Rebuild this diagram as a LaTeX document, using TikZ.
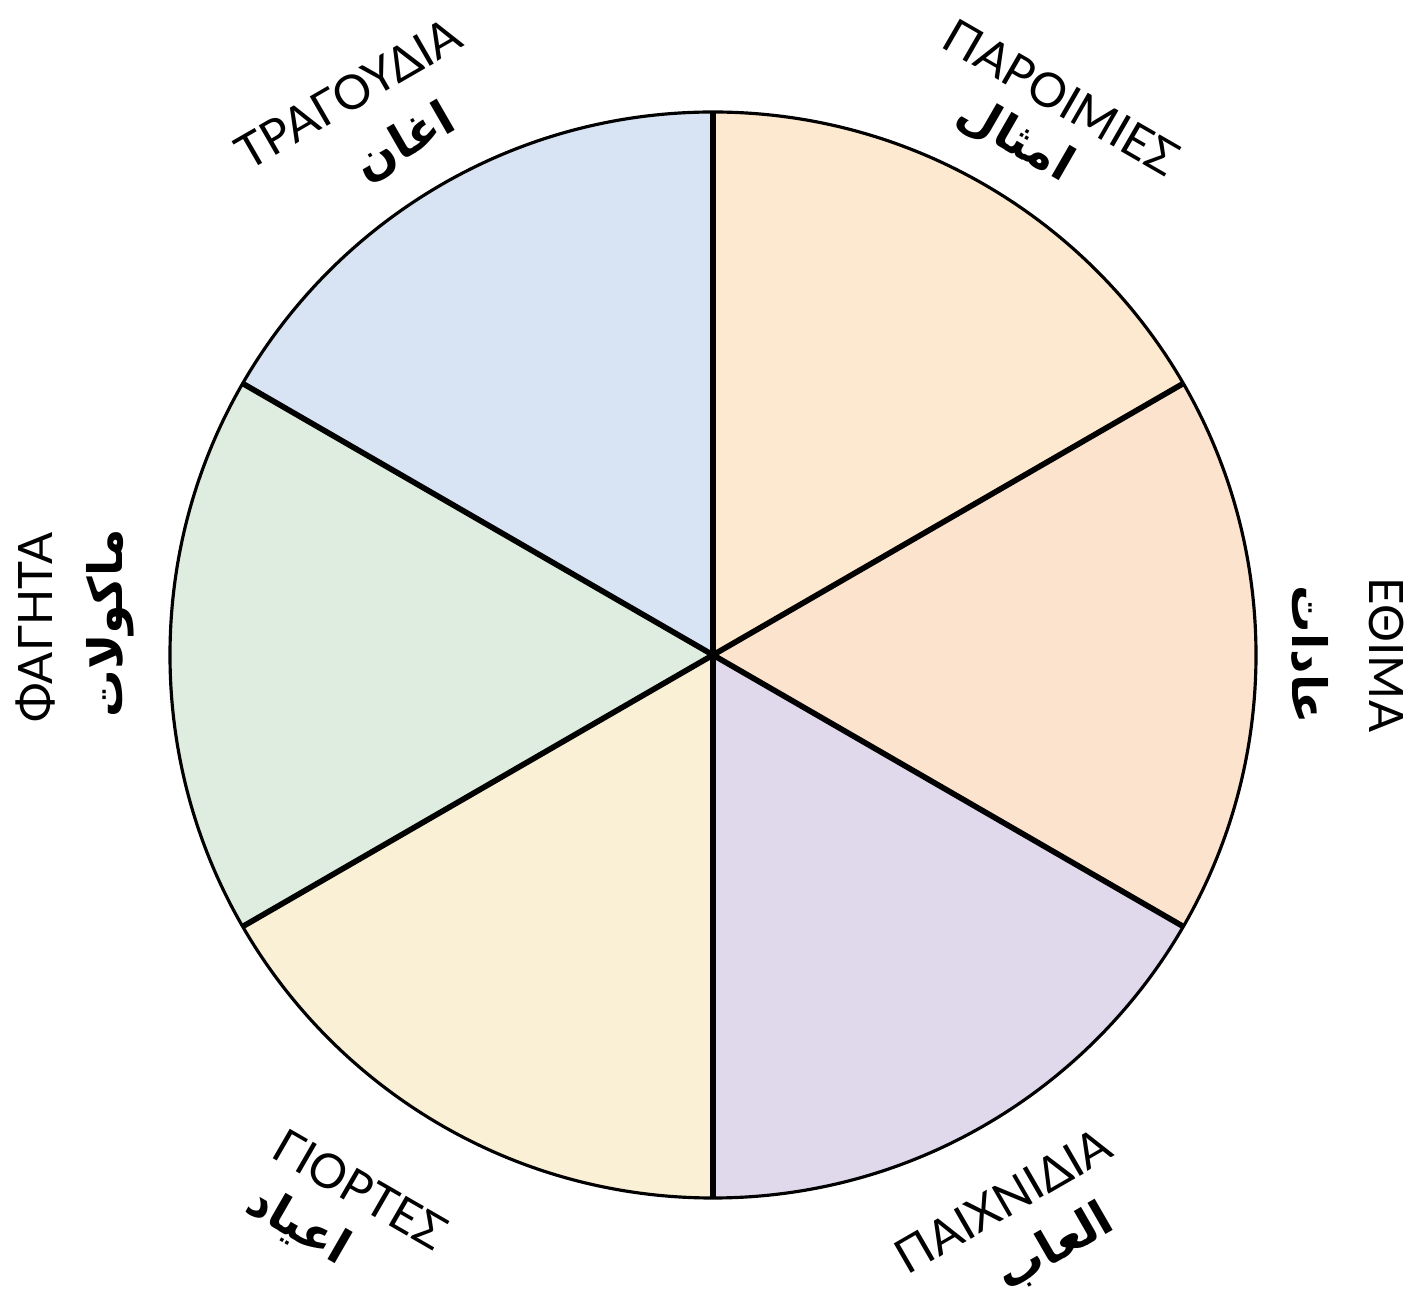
\documentclass[tikz,border=0pt]{standalone}
\usepackage{fontspec}
\setmainfont{Lato}
\newfontfamily\arabicfont[Script=Arabic]{DejaVu Sans}
\TeXXeTstate=1
\begin{document}
\begin{tikzpicture}
\definecolor{cTR}{HTML}{FDE9D0}
\definecolor{cR}{HTML}{FBE3CE}
\definecolor{cBR}{HTML}{E0D8EB}
\definecolor{cBL}{HTML}{F9F0D6}
\definecolor{cL}{HTML}{DEEDDF}
\definecolor{cTL}{HTML}{D8E4F3}
\tikzset{
  greek/.style={font=\fontsize{27}{30}\selectfont, inner sep=0pt},
  arab/.style={font=\arabicfont\bfseries\fontsize{27}{30}\selectfont, inner sep=0pt},
  spoke/.style={line width=3.2pt},
  rim/.style={line width=1.8pt}
}
\useasboundingbox (0,0) rectangle (28.22,26);
\begin{scope}[shift={(14.26,12.9)}]
\def\R{10.86}
\fill[cTR] (0,0) -- (90:\R) arc (90:30:\R) -- cycle;
\fill[cR] (0,0) -- (30:\R) arc (30:-30:\R) -- cycle;
\fill[cBR] (0,0) -- (-30:\R) arc (-30:-90:\R) -- cycle;
\fill[cBL] (0,0) -- (-90:\R) arc (-90:-150:\R) -- cycle;
\fill[cL] (0,0) -- (-150:\R) arc (-150:-210:\R) -- cycle;
\fill[cTL] (0,0) -- (150:\R) arc (150:90:\R) -- cycle;
\coordinate (c) at (0,0);
\foreach \a in {90,30,-30,-90,-150,150} {
  \coordinate (p\a) at (\a:\R);
}
\draw[spoke] (p90) -- (p-90);
\draw[spoke] (p30) -- (p-150);
\draw[spoke] (p150) -- (p-30);
\draw[rim] (c) circle (\R);
% labels
\node[greek, rotate=30] (g1) at (123:13.38) {ΤΡΑΓΟΥΔΙΑ};
\node[arab, rotate=30] (a1) at (121:11.95) {\beginR اغان\endR};
\node[greek, rotate=-30] (g2) at (58:13.15) {ΠΑΡΟΙΜΙΕΣ};
\node[arab, rotate=-30] (a2) at (59.6:11.95) {\beginR امثال\endR};
\node[greek, rotate=-90] (g3) at (0:13.47) {ΕΘΙΜΑ};
\node[arab, rotate=-90] (a3) at (0:11.94) {\beginR عادات\endR};
\node[greek, rotate=90] (g4) at (177.7:13.56) {ΦΑΓΗΤΑ};
\node[arab, rotate=90] (a4) at (177:12.08) {\beginR ماكولات\endR};
\node[greek, rotate=-30] (g5) at (236.6:12.8) {ΓΙΟΡΤΕΣ};
\node[arab, rotate=-30] (a5) at (234:14.12) {\beginR اعياد\endR};
\node[greek, rotate=30] (g6) at (298:12.36) {ΠΑΙΧΝΙΔΙΑ};
\node[arab, rotate=30] (a6) at (300:13.68) {\beginR العاب\endR};
\end{scope}
\end{tikzpicture}
\end{document}
